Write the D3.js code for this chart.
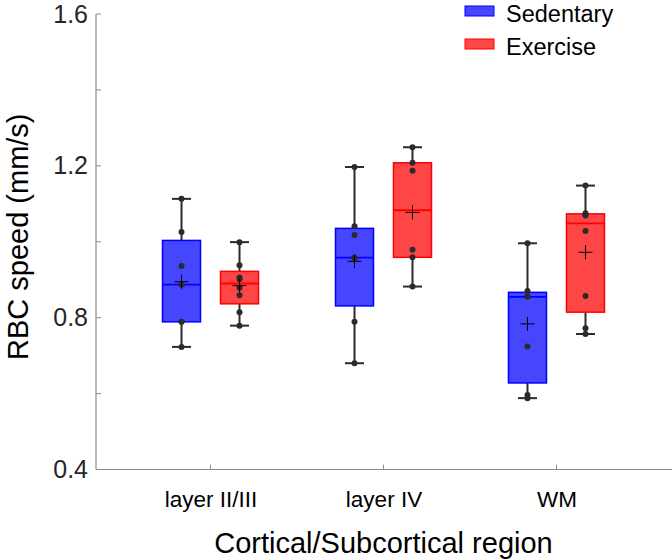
<!DOCTYPE html>
<html>
<head>
<meta charset="utf-8">
<script src="https://cdn.jsdelivr.net/npm/d3@7"></script>
<style>
  html, body { margin: 0; padding: 0; background: #fff; }
  svg { display: block; font-family: "Liberation Sans", Arial, Helvetica, sans-serif; }
</style>
</head>
<body>
<svg id="chart" width="672" height="560"></svg>
<script>
// ---- data ----
const categories = ["layer II/III", "layer IV", "WM"];
const groups = ["Sedentary", "Exercise"];
const sedentaryValues = [
  [0.723, 0.789, 0.789, 0.887, 0.936, 1.026, 1.113],
  [0.680, 0.789, 0.957, 0.958, 1.018, 1.041, 1.197],
  [0.588, 0.596, 0.724, 0.855, 0.857, 0.870, 0.996]
];
const exerciseValues = [
  [0.779, 0.814, 0.859, 0.879, 0.901, 0.906, 0.938, 0.999],
  [0.882, 0.959, 0.979, 1.187, 1.208, 1.249],
  [0.757, 0.772, 0.857, 1.028, 1.069, 1.072, 1.075, 1.148]
];
const yTicks = [0.4, 0.8, 1.2, 1.6];
const yMinorTicks = [0.6, 1.0, 1.4];
const yLabel = "RBC speed (mm/s)";
const xLabel = "Cortical/Subcortical region";

// ---- styles ----
const colors = { Sedentary: "#0000ff", Exercise: "#ff0000" };
const fillColors = { Sedentary: "rgb(70,70,255)", Exercise: "rgb(255,70,70)" };
const axisColor = "#8c8c8c";
const darkColor = "#2b2b2b";

const svg = d3.select("#chart");
const pLeft = 96, pRight = 671, pTop = 14, pBottom = 469.5;

const x = d3.scalePoint().domain(categories).range([pLeft, pRight]).padding(0.662);
const xOff = d3.scalePoint().domain(groups).range([-29, 29]);
const y = d3.scaleLinear().domain([0.4, 1.6]).range([pBottom, pTop]);
const boxW = 38, capW = 19;

// MATLAB-style quantile
function quant(sorted, p) {
  const n = sorted.length;
  const pos = p * n + 0.5;
  if (pos <= 1) return sorted[0];
  if (pos >= n) return sorted[n - 1];
  const lo = Math.floor(pos), f = pos - lo;
  return sorted[lo - 1] + f * (sorted[lo] - sorted[lo - 1]);
}
function stats(vals) {
  const s = vals.slice().sort((a, b) => a - b);
  return {
    min: s[0], max: s[s.length - 1],
    q1: quant(s, 0.25), med: quant(s, 0.5), q3: quant(s, 0.75),
    mean: d3.mean(s), vals: s
  };
}

// ---- axes ----
const yAxis = svg.append("g").attr("transform", `translate(${pLeft},0)`)
  .call(d3.axisLeft(y).tickValues(yTicks).tickFormat(d3.format(".1f")).tickSize(0).tickPadding(8));
yAxis.select(".domain").remove();
yAxis.selectAll("text").attr("font-size", 25).attr("fill", "#262626");

svg.append("line").attr("x1", pLeft).attr("x2", pLeft).attr("y1", pTop).attr("y2", pBottom)
  .attr("stroke", axisColor).attr("stroke-width", 1.2);
svg.append("line").attr("x1", pLeft).attr("x2", pRight + 1).attr("y1", pBottom).attr("y2", pBottom)
  .attr("stroke", axisColor).attr("stroke-width", 1.2);

svg.append("g").selectAll("line").data(yTicks.concat(yMinorTicks)).join("line")
  .attr("x1", pLeft).attr("x2", pLeft + 5)
  .attr("y1", d => y(d)).attr("y2", d => y(d))
  .attr("stroke", axisColor).attr("stroke-width", 1);

const xAxis = svg.append("g").attr("transform", `translate(0,${pBottom})`)
  .call(d3.axisBottom(x).tickSize(0).tickPadding(22));
xAxis.select(".domain").remove();
xAxis.selectAll("text").attr("font-size", 22.5).attr("fill", "#000");
svg.append("g").selectAll("line").data(categories).join("line")
  .attr("x1", d => x(d)).attr("x2", d => x(d))
  .attr("y1", pBottom).attr("y2", pBottom - 5)
  .attr("stroke", axisColor).attr("stroke-width", 1);

svg.append("text").attr("x", (pLeft + pRight) / 2).attr("y", 553)
  .attr("text-anchor", "middle").attr("font-size", 29).attr("fill", "#000").text(xLabel);
svg.append("text").attr("transform", `translate(28,${(pTop + pBottom) / 2 - 5}) rotate(-90)`)
  .attr("text-anchor", "middle").attr("font-size", 29).attr("fill", "#000").text(yLabel);

// ---- boxes ----
const series = { Sedentary: sedentaryValues, Exercise: exerciseValues };
groups.forEach(g => {
  categories.forEach((c, i) => {
    const st = stats(series[g][i]);
    const cx = x(c) + xOff(g);
    const gg = svg.append("g");
    // whiskers
    gg.append("line").attr("x1", cx).attr("x2", cx).attr("y1", y(st.q3)).attr("y2", y(st.max))
      .attr("stroke", darkColor).attr("stroke-width", 2);
    gg.append("line").attr("x1", cx).attr("x2", cx).attr("y1", y(st.q1)).attr("y2", y(st.min))
      .attr("stroke", darkColor).attr("stroke-width", 2);
    [st.min, st.max].forEach(v => {
      gg.append("line").attr("x1", cx - capW / 2).attr("x2", cx + capW / 2)
        .attr("y1", y(v)).attr("y2", y(v)).attr("stroke", darkColor).attr("stroke-width", 2);
    });
    // box
    gg.append("rect").attr("x", cx - boxW / 2).attr("y", y(st.q3))
      .attr("width", boxW).attr("height", y(st.q1) - y(st.q3))
      .attr("fill", fillColors[g]).attr("stroke", colors[g]).attr("stroke-width", 1.5);
    gg.append("line").attr("x1", cx - boxW / 2).attr("x2", cx + boxW / 2)
      .attr("y1", y(st.med)).attr("y2", y(st.med))
      .attr("stroke", colors[g]).attr("stroke-width", 1.8);
    // points
    gg.selectAll("circle").data(st.vals).join("circle")
      .attr("cx", cx).attr("cy", d => y(d)).attr("r", 3)
      .attr("fill", darkColor);
    // mean marker
    const my = y(st.mean);
    gg.append("path").attr("d", `M${cx - 7},${my}H${cx + 7}M${cx},${my - 7}V${my + 7}`)
      .attr("stroke", "#000").attr("stroke-width", 1).attr("fill", "none");
  });
});

// ---- legend ----
const legend = svg.append("g");
groups.forEach((g, i) => {
  const ly = 6 + i * 33;
  legend.append("rect").attr("x", 465).attr("y", ly).attr("width", 29).attr("height", 10)
    .attr("fill", fillColors[g]).attr("stroke", colors[g]).attr("stroke-width", 1);
  legend.append("text").attr("x", 506).attr("y", ly + 15.5).attr("font-size", 23.5)
    .attr("fill", "#000").text(g);
});
</script>
</body>
</html>
